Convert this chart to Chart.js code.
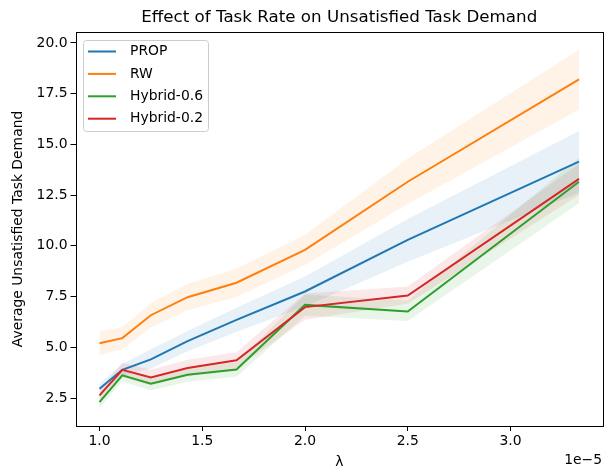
<!DOCTYPE html>
<html>
<head>
<meta charset="utf-8">
<script src="https://cdn.jsdelivr.net/npm/chart.js@4/dist/chart.umd.min.js"></script>
<style>
  html, body { margin: 0; padding: 0; background: #fff; }
  #chart { display: block; }
</style>
</head>
<body>
<canvas id="chart" width="604" height="467"></canvas>
<script>
// lambda values (x axis, in units of 1e-5)
const lambdaVals = [1.0, 1.1111, 1.25, 1.4286, 1.6667, 2.0, 2.5, 3.3333];
const xTicks = [1.0, 1.5, 2.0, 2.5, 3.0];
const yTicks = [2.5, 5.0, 7.5, 10.0, 12.5, 15.0, 17.5, 20.0];

// series means and shaded band bounds
const propMean = [2.96, 3.89, 4.40, 5.30, 6.35, 7.75, 10.29, 14.15];
const propLow  = [2.72, 3.60, 3.95, 4.80, 5.75, 7.01, 9.22, 12.62];
const propHigh = [3.20, 4.18, 4.90, 5.80, 6.95, 8.49, 11.32, 15.66];

const rwMean = [5.20, 5.45, 6.58, 7.47, 8.18, 9.80, 13.16, 18.21];
const rwLow  = [4.62, 4.90, 5.98, 6.82, 7.48, 9.06, 12.06, 16.72];
const rwHigh = [5.82, 5.98, 7.18, 8.12, 8.88, 10.54, 14.30, 19.66];

const h06Mean = [2.30, 3.62, 3.20, 3.65, 3.90, 7.09, 6.76, 13.16];
const h06Low  = [2.00, 3.32, 2.87, 3.30, 3.55, 6.55, 6.30, 12.10];
const h06High = [2.60, 3.92, 3.53, 4.00, 4.25, 7.60, 7.30, 14.35];

const h02Mean = [2.63, 3.89, 3.51, 3.98, 4.36, 6.98, 7.55, 13.30];
const h02Low  = [2.33, 3.54, 3.13, 3.58, 3.96, 6.36, 7.15, 12.50];
const h02High = [2.93, 4.24, 3.89, 4.38, 4.76, 7.65, 8.00, 14.05];

const series = [
  { label: 'PROP',       color: '#1f77b4', rgb: '31,119,180', mean: propMean, low: propLow, high: propHigh },
  { label: 'RW',         color: '#ff7f0e', rgb: '255,127,14', mean: rwMean,   low: rwLow,   high: rwHigh },
  { label: 'Hybrid-0.6', color: '#2ca02c', rgb: '44,160,44',  mean: h06Mean,  low: h06Low,  high: h06High },
  { label: 'Hybrid-0.2', color: '#d62728', rgb: '214,39,40',  mean: h02Mean,  low: h02Low,  high: h02High }
];

const FONT = "'DejaVu Sans', sans-serif";

function pts(arr) {
  return lambdaVals.map((x, i) => ({ x: x, y: arr[i] }));
}

// lines first (drawn on top), then band pairs
const datasets = [];
series.forEach((s, i) => {
  datasets.push({
    label: s.label,
    data: pts(s.mean),
    borderColor: s.color,
    borderWidth: 2,
    pointRadius: 0,
    fill: false,
    tension: 0,
    order: 3 - i
  });
});
series.forEach((s, i) => {
  datasets.push({
    label: s.label + ' low',
    data: pts(s.low),
    borderColor: 'transparent',
    borderWidth: 0,
    pointRadius: 0,
    fill: false,
    order: 20 - i
  });
  datasets.push({
    label: s.label + ' high',
    data: pts(s.high),
    borderColor: 'transparent',
    borderWidth: 0,
    pointRadius: 0,
    backgroundColor: 'rgba(' + s.rgb + ',0.1)',
    fill: '-1',
    order: 20 - i
  });
});

// title, axis labels, frame and legend drawn matplotlib-style
const overlay = {
  id: 'overlay',
  afterDraw(chart) {
    const ctx = chart.ctx;
    const a = chart.chartArea;
    ctx.save();

    // frame
    ctx.strokeStyle = '#000';
    ctx.lineWidth = 1;
    ctx.strokeRect(Math.round(a.left) + 0.5, Math.round(a.top) + 0.5,
                   Math.round(a.right - a.left) - 1, Math.round(a.bottom - a.top));

    ctx.fillStyle = '#000';
    // title
    ctx.font = '16.7px ' + FONT;
    ctx.textAlign = 'center';
    ctx.textBaseline = 'alphabetic';
    ctx.fillText('Effect of Task Rate on Unsatisfied Task Demand', (a.left + a.right) / 2, 22);

    // x label and offset text
    ctx.font = '13.9px ' + FONT;
    ctx.textBaseline = 'top';
    ctx.fillText('λ', (a.left + a.right) / 2, 455);
    ctx.textAlign = 'right';
    ctx.fillText('1e\u22125', 602, 453);

    // y label
    ctx.save();
    ctx.translate(18, (a.top + a.bottom) / 2);
    ctx.rotate(-Math.PI / 2);
    ctx.textAlign = 'center';
    ctx.textBaseline = 'middle';
    ctx.fillText('Average Unsatisfied Task Demand', 0, 0);
    ctx.restore();

    // legend
    const bx = 83.5, by = 40.5, bw = 125, bh = 91, r = 3;
    ctx.beginPath();
    ctx.moveTo(bx + r, by);
    ctx.arcTo(bx + bw, by, bx + bw, by + bh, r);
    ctx.arcTo(bx + bw, by + bh, bx, by + bh, r);
    ctx.arcTo(bx, by + bh, bx, by, r);
    ctx.arcTo(bx, by, bx + bw, by, r);
    ctx.closePath();
    ctx.fillStyle = 'rgba(255,255,255,0.8)';
    ctx.fill();
    ctx.strokeStyle = '#cccccc';
    ctx.lineWidth = 1;
    ctx.stroke();

    ctx.font = '13.9px ' + FONT;
    ctx.textAlign = 'left';
    ctx.textBaseline = 'middle';
    series.forEach((s, i) => {
      const y = 51.5 + i * 22.4;
      ctx.strokeStyle = s.color;
      ctx.lineWidth = 2;
      ctx.beginPath();
      ctx.moveTo(88, y);
      ctx.lineTo(116, y);
      ctx.stroke();
      ctx.fillStyle = '#000';
      ctx.fillText(s.label, 130, y);
    });

    ctx.restore();
  }
};

new Chart(document.getElementById('chart'), {
  type: 'line',
  data: { datasets: datasets },
  plugins: [overlay],
  options: {
    responsive: false,
    animation: false,
    devicePixelRatio: 1,
    layout: { padding: { left: 0, right: 1, top: 32, bottom: 0 } },
    plugins: {
      legend: { display: false },
      tooltip: { enabled: false },
      title: { display: false }
    },
    scales: {
      x: {
        type: 'linear',
        min: 0.8833,
        max: 3.45,
        afterBuildTicks: (scale) => { scale.ticks = xTicks.map(v => ({ value: v })); },
        afterFit: (scale) => { scale.height = 41; },
        ticks: {
          color: '#000',
          font: { family: FONT, size: 13.9 },
          padding: 2,
          maxRotation: 0,
          callback: (v) => Number(v).toFixed(1)
        },
        grid: { drawOnChartArea: false, drawTicks: true, tickLength: 5, color: '#000', lineWidth: 1 },
        border: { display: false }
      },
      y: {
        type: 'linear',
        min: 1.12,
        max: 20.54,
        afterBuildTicks: (scale) => { scale.ticks = yTicks.map(v => ({ value: v })); },
        afterFit: (scale) => { scale.width = 75.5; },
        ticks: {
          color: '#000',
          font: { family: FONT, size: 13.9 },
          padding: 3,
          callback: (v) => Number(v).toFixed(1)
        },
        grid: { drawOnChartArea: false, drawTicks: true, tickLength: 5, color: '#000', lineWidth: 1 },
        border: { display: false }
      }
    }
  }
});
</script>
</body>
</html>
